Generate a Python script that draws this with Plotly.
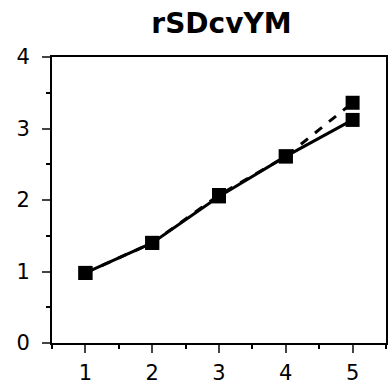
import plotly.graph_objects as go

x_vals = [1, 2, 3, 4, 5]
solid_vals = [0.98, 1.40, 2.05, 2.61, 3.12]
dashed_vals = [0.98, 1.40, 2.07, 2.61, 3.36]
x_ticks = [1, 2, 3, 4, 5]
y_ticks = [0, 1, 2, 3, 4]
title_text = "rSDcvYM"

fig = go.Figure()
fig.add_trace(go.Scatter(x=x_vals, y=dashed_vals, mode="lines+markers",
                         line=dict(color="black", width=3, dash="dash"),
                         marker=dict(symbol="square", size=14, color="black"),
                         showlegend=False))
fig.add_trace(go.Scatter(x=x_vals, y=solid_vals, mode="lines+markers",
                         line=dict(color="black", width=3),
                         marker=dict(symbol="square", size=14, color="black"),
                         showlegend=False))

fig.update_layout(
    width=392, height=390,
    margin=dict(l=52, r=4, t=57, b=47),
    paper_bgcolor="white", plot_bgcolor="white",
    title=dict(text="<b>" + title_text + "</b>", x=0.565, xanchor="center", y=0.94, yanchor="middle",
               font=dict(family="DejaVu Sans", size=28, color="black")),
    font=dict(family="DejaVu Sans", size=21, color="black"),
)
fig.update_xaxes(range=[0.5, 5.5], tickvals=x_ticks, ticks="outside", ticklen=8, tickwidth=2,
                 showline=True, linewidth=2, linecolor="black", mirror=True, showgrid=False,
                 zeroline=False, ticklabelstandoff=2,
                 minor=dict(dtick=0.5, tick0=0.5, ticks="outside", ticklen=4, tickwidth=2, tickcolor="black"))
fig.update_yaxes(range=[0, 4], tickvals=y_ticks, ticks="outside", ticklen=8, tickwidth=2,
                 showline=True, linewidth=2, linecolor="black", mirror=True, showgrid=False,
                 zeroline=False, ticklabelstandoff=8,
                 minor=dict(dtick=0.5, tick0=0, ticks="outside", ticklen=4, tickwidth=2, tickcolor="black"))

fig.write_html("out.html")
